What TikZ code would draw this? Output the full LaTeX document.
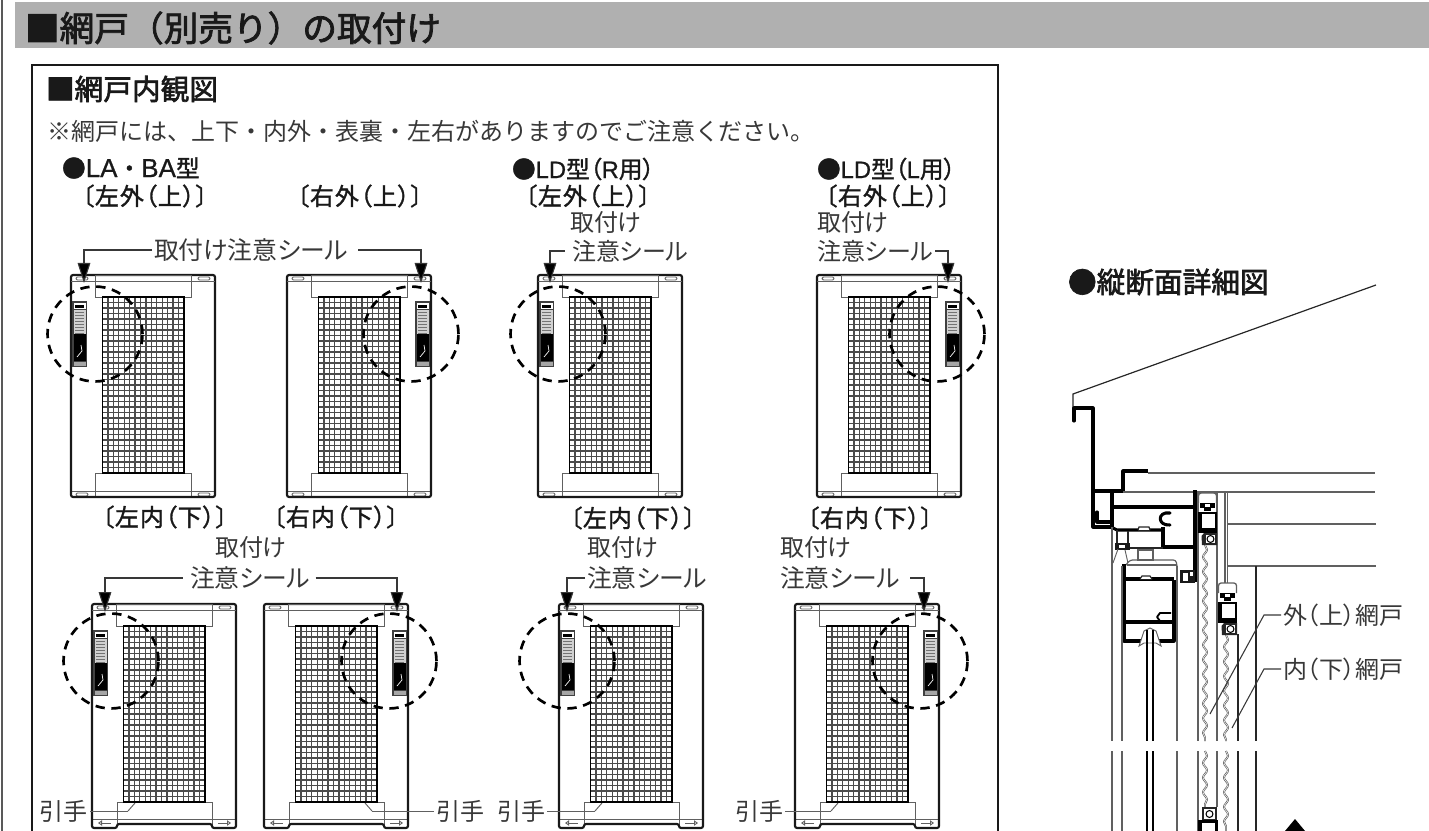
\documentclass[tikz,border=0pt]{standalone}
\usepackage{fontspec}
\usetikzlibrary{arrows.meta,decorations.pathmorphing}
\newfontfamily\jp{Noto Sans CJK JP}
\newfontfamily\jph[FakeBold=2.2]{Noto Sans CJK JP}
\newfontfamily\jpn[FakeBold=1.4]{Noto Sans CJK JP}
\newfontfamily\jpm[FakeBold=1.4,RawFeature={+palt}]{Noto Sans CJK JP}
\newfontfamily\jpc[FakeBold=1.4,RawFeature={+palt},LetterSpace=4]{Noto Sans CJK JP}
\newfontfamily\jpp[RawFeature={+palt}]{Noto Sans CJK JP}
\newfontfamily\lat[FakeBold=0.8]{Liberation Sans}
\definecolor{ink}{HTML}{383838}
\definecolor{band}{HTML}{B0B0B0}
\definecolor{gl}{HTML}{606060}
\tikzset{
 x=0.75pt,y=-0.75pt,
 every node/.style={inner sep=0pt,outer sep=1.5pt,text=ink,anchor=west},
 titlet/.style={font=\jph\fontsize{26pt}{26pt}\selectfont,text=black!90},
 headt/.style={font=\jph\fontsize{21.5pt}{22pt}\selectfont,text=black!90},
 notet/.style={font=\jp\fontsize{18pt}{18pt}\selectfont},
 subt/.style={font=\jpm\fontsize{17.8pt}{18pt}\selectfont,text=black!90},
 capt/.style={font=\jpc\fontsize{18pt}{18pt}\selectfont,text=black!90},
 labt/.style={font=\jpp\fontsize{18pt}{19pt}\selectfont},
 labw/.style={font=\jpp\fontsize{18.6pt}{19pt}\selectfont},
 leader/.style={draw=ink,line width=0.8pt},
 arrowl/.style={leader,-{Triangle[length=15pt,width=9.5pt,fill=black]}},
 fine/.style={draw=gl,line width=0.7pt},
 frameline/.style={draw=black!90,line width=1.6pt,rounded corners=1.5pt},
 meshl/.style={draw=black!70,line width=0.95pt},
 dashc/.style={draw=black,line width=2pt,dash pattern=on 7pt off 5pt},
 gv/.style={draw=gl,line width=0.9pt},
 dk/.style={draw=black!85,line width=0.9pt},
 heavy/.style={draw=black,line width=2.3pt,line join=round},
 barline/.style={draw=black,line width=1.5pt},
 wave/.style={draw=black!65,line width=0.5pt,double=white,double distance=0.4pt,decorate,decoration={snake,segment length=11pt,amplitude=1.5pt}},
}
\newcommand\doorcommon[5]{% name, arrowx, stickerx, circlex, circley
 \draw[fine] (24,0) rectangle (120,22);
 \draw[fine] (0,6) -- (144,6);
 \draw[fine,rounded corners=1pt] (5,2) rectangle (17,5);
 \draw[fine,rounded corners=1pt] (127,2) rectangle (139,5);
 \foreach \i in {0,...,15} \draw[meshl] (31.5+\i*5.43,22) -- (31.5+\i*5.43,198);
 \foreach \i in {0,...,32} \draw[meshl] (31.5,22+\i*5.5) -- (113,22+\i*5.5);
 \draw[draw=black,line width=1.3pt] (31.5,22) rectangle (113,198);
 \begin{scope}[shift={(#3,26)}]
  \fill[black!75] (0,0) rectangle (15,66);
  \fill[white] (1.5,2) rectangle (13.5,8);
  \fill[black] (3,3.5) rectangle (12,7);
  \fill[black!18] (1.5,9) rectangle (13.5,33);
  \foreach \j in {11,14,...,32} \draw[black!55,line width=0.6pt] (3,\j) -- (12,\j);
  \fill[black] (1.5,33) rectangle (13.5,60);
  \draw[white,line width=0.5pt] (5,56) -- (10,50) -- (9,44);
  \fill[black!35] (1.5,61) rectangle (13.5,64.5);
 \end{scope}
 \coordinate (#1-a) at (#2,8);
 \draw[dashc] (#4,#5) circle[radius=35.6pt];
}
\newcommand\doorT[7]{% name,x,y,arrowx,stickerx,circlex,circley
 \begin{scope}[shift={(#2,#3)}]
  \draw[fine] (24,198) rectangle (120,222);
  \draw[fine] (0,216) -- (144,216);
  \draw[fine,rounded corners=1pt] (5,218) rectangle (17,221);
  \draw[fine,rounded corners=1pt] (127,218) rectangle (139,221);
  \draw[frameline] (0,0) rectangle (144,222);
  \doorcommon{#1}{#4}{#5}{#6}{#7}
 \end{scope}
}
\newcommand\doorB[8]{% name,x,y,arrowx,stickerx,circlex,handle x,handle x2
 \begin{scope}[shift={(#2,#3)}]
  \draw[fine] (25,198) rectangle (120,220);
  \draw[fine] (0,215) -- (144,215);
  \draw[frameline] (0,0) -- (144,0) -- (144,224) -- (120,224) -- (120,220) -- (25,220) -- (25,224) -- (0,224) -- cycle;
  \draw[fine] (#8,199) -- (#7,207);
  \coordinate (#1-h) at (#7,207);
  \draw[fine,-{Triangle[open,length=3pt,width=4pt]}] (19,219) -- (6,219);
  \draw[fine,-{Triangle[open,length=3pt,width=4pt]}] (126,219) -- (139,219);
  \doorcommon{#1}{#4}{#5}{#6}{57}
 \end{scope}
}
\newcommand\hanger[2]{%
 \begin{scope}[shift={(#1,#2)}]
  \draw[gv,rounded corners=2pt,fill=white,line width=1pt] (0.5,10) -- (0.5,0) -- (18.5,0) -- (18.5,10);
  \fill[black] (2,10) rectangle (17,18);
  \fill[white] (7,11) rectangle (12,14);
  \fill[white] (2,14.5) rectangle (6,18);
  \fill[white] (13,14.5) rectangle (17,18);
  \fill[black] (0,19) rectangle (19,40);
  \fill[white] (3.5,20.5) rectangle (17,35);
  \fill[black!85] (3.5,43) -- (6,40) -- (19,40) -- (19,52) -- (4,52) -- cycle;
  \fill[white] (8,42) rectangle (17,50);
  \draw[draw=black,line width=0.8pt] (12.5,46) circle[radius=2.6pt];
 \end{scope}
}
\begin{document}
\begin{tikzpicture}
\useasboundingbox (0,0) rectangle (1429,831);
\fill[band] (15,2) rectangle (1429,48);
\draw[draw=black!65,line width=1.2pt] (2,0) -- (2,831);
\draw[draw=black!90,line width=1.2pt] (32,831) -- (32,65) -- (998,65) -- (998,831);
\node[titlet] (title) at (23,28) {■網戸（別売り）の取付け};
\node[headt] (head) at (44,89) {■網戸内観図};
\node[notet] (note) at (45,131) {※網戸には、上下・内外・表裏・左右がありますのでご注意ください。};
\node[subt] (s1) at (60,168) {●{\lat\fontsize{19.5pt}{19.5pt}\selectfont LA}{\jpn ・}{\lat\fontsize{19.5pt}{19.5pt}\selectfont BA}型};
\node[subt] (s2) at (510,169) {●{\lat LD}型（{\lat R}用）};
\node[subt] (s3) at (815,169) {●{\lat LD}型（{\lat L}用）};
\node[capt] (c1) at (80,196) {〔左外（上）〕};
\node[capt] (c2) at (295,196) {〔右外（上）〕};
\node[capt] (c3) at (523,196) {〔左外（上）〕};
\node[capt] (c4) at (823,196) {〔右外（上）〕};
\node[capt] (c5) at (100,517) {〔左内（下）〕};
\node[capt] (c6) at (271,517) {〔右内（下）〕};
\node[capt] (c7) at (568,518) {〔左内（下）〕};
\node[capt] (c8) at (805,518) {〔右内（下）〕};
\doorT{d1}{71}{275}{13}{1}{24}{59}
\doorT{d2}{287}{275}{134}{128}{124}{59}
\doorT{d3}{538}{275}{12}{1}{20}{59}
\doorT{d4}{817}{275}{131}{128}{120}{59}
\doorB{d5}{92}{604}{13}{1}{19}{36}{43}
\doorB{d6}{264}{604}{133}{128}{125}{108}{101}
\doorB{d7}{559}{604}{8}{1}{8}{36}{43}
\doorB{d8}{795}{604}{129}{128}{125}{36}{43}
\node[labw] (l1) at (152,250) {取付け注意シール};
\draw[arrowl] (l1.west) -| (d1-a);
\draw[arrowl] ([xshift=6pt]l1.east) -| (d2-a);
\node[labt] (l2a) at (568,222) {取付け};
\node[labt] (l2) at (570,251) {注意シール};
\draw[arrowl] ([xshift=-4pt]l2.west) -| (d3-a);
\node[labt] (l3a) at (815,222) {取付け};
\node[labt] (l3) at (815,251) {注意シール};
\draw[arrowl] (l3.east) -| (d4-a);
\node[labt] (l4a) at (213,547) {取付け};
\node[labw] (l4) at (188,578) {注意シール};
\draw[arrowl] ([xshift=-4pt]l4.west) -| (d5-a);
\draw[arrowl] ([xshift=2.5pt]l4.east) -| (d6-a);
\node[labt] (l5a) at (585,547) {取付け};
\node[labw] (l5) at (585,578) {注意シール};
\draw[arrowl] (l5.west) -| (d7-a);
\node[labt] (l6a) at (778,547) {取付け};
\node[labw] (l6) at (778,578) {注意シール};
\draw[arrowl] ([xshift=6pt]l6.east) -| (d8-a);
\node[labt] (h1) at (38,811) {引手};
\draw[fine] (h1.east) -- (d5-h);
\node[labt] (h2) at (434,811) {引手};
\draw[fine] (h2.west) -- (d6-h);
\node[labt] (h3) at (495,811) {引手};
\draw[fine] (h3.east) -- (d7-h);
\node[labt] (h4) at (733,811) {引手};
\draw[fine] (h4.east) -- (d8-h);
% section
\node[headt] (sect) at (1066,282) {●縦断面詳細図};
\draw[dk] (1376,285) -- (1073,394) -- (1073,408);
\draw[heavy,line cap=round] (1074,421) -- (1074,408) -- (1093,408) -- (1093,527) -- (1112,527);
\draw[heavy] (1093,491) -- (1123,491) -- (1123,471) -- (1148,471);
\draw[heavy,line cap=round] (1097,512) -- (1097,522) -- (1112,522);
\draw[gv] (1148,473) -- (1375,473);
\draw[gv] (1123,492) -- (1375,492);
\draw[gv] (1227,524) -- (1376,524);
\draw[gv] (1227,566) -- (1376,566);
\draw[gv] (1225,492) -- (1225,583);
\draw[gv] (1227.5,492) -- (1227.5,583);
% head frame
\draw[heavy] (1112,491) -- (1112,527);
\draw[heavy] (1112,507) -- (1195,507);
\draw[heavy] (1195,490) -- (1195,582);
\draw[heavy] (1195,547) -- (1163,547) -- (1163,527);
\draw[heavy,line cap=round] (1170,513) .. controls (1157,511) and (1157,526) .. (1170,525);
\draw[heavy] (1113,528) -- (1117,530) -- (1163,530);
\draw[dk,line width=1.4pt] (1117,530) -- (1117,543);
\draw[dk,line width=1.2pt] (1128,531) -- (1128,548) -- (1163,548);
\draw[dk,fill=white] (1138,530) -- (1139,527) -- (1149,527) -- (1150,530);
\fill[black!90] (1115,543) rectangle (1130,550);
\fill[white] (1119,545) rectangle (1125,548);
\draw[gv,fill=white] (1138,550) rectangle (1153,560);
\draw[fine] (1118,549) -- (1113,563);
\draw[fine] (1125,550) -- (1128,563);
\fill[black!90] (1180,570) rectangle (1195,583);
\fill[white] (1183,573) rectangle (1188,581);
\fill[white] (1190,572) rectangle (1193,576);
% sash
\draw[gv,rounded corners=2pt] (1125,566) -- (1130,560) -- (1176,560) -- (1177,566);
\draw[gv] (1127,565) -- (1177,565);
\draw[heavy] (1124,564) -- (1124,641) -- (1174,641) -- (1174,580);
\draw[heavy] (1124,579) -- (1174,579);
\draw[heavy] (1124,622) -- (1174,622);
\draw[dk,fill=white] (1140,579) -- (1142,576) -- (1150,576) -- (1152,579);
\draw[heavy,line width=1.4pt] (1171,613) -- (1160,613) -- (1157,617) -- (1160,621) -- (1167,621);
% gasket and bar
\draw[fine,fill=white] (1139,646) -- (1144,631) -- (1150,628) -- (1156,631) -- (1161,646) -- (1156,643) -- (1144,643) -- cycle;
\draw[barline] (1147,630) -- (1147,741) (1153,630) -- (1153,741);
\draw[barline] (1147,751) -- (1147,831) (1153,751) -- (1153,831);
% verticals with break
\foreach \xx/\yy in {1112/527,1122/566,1177/566,1198/492} {\draw[gv] (\xx,\yy) -- (\xx,741) (\xx,751) -- (\xx,831);}
\draw[gv,line width=1.4pt] (1217,492) -- (1217,741) (1217,751) -- (1217,807);
\draw[dk] (1238,634) -- (1238,741) (1238,751) -- (1238,831);
\draw[dk] (1256,566) -- (1256,741) (1256,751) -- (1256,831);
% screens
\hanger{1198}{493}
\hanger{1218}{583}
\draw[wave] (1205,545) -- (1205,741);
\draw[wave] (1205,751) -- (1205,807);
\draw[wave] (1226,635) -- (1226,741);
\draw[wave] (1226,751) -- (1226,831);
\fill[black!85] (1202,820) -- (1202,807) -- (1217,807) -- (1217,820) -- cycle;
\fill[white] (1204,809) rectangle (1215,819);
\draw[draw=black,line width=0.8pt] (1209.5,814) circle[radius=2.6pt];
\fill[black] (1198,820) rectangle (1218,831);
\fill[white] (1202,823) rectangle (1215,831);
% labels
\node[labt] (o1) at (1281,615) {外（上）網戸};
\node[labt] (o2) at (1281,669) {内（下）網戸};
\coordinate (t1) at (1210,714);
\coordinate (t2) at (1232,728);
\coordinate (k1) at (1264,615);
\coordinate (k2) at (1264,669);
\draw[leader] (o1.west) -- (k1) -- (t1);
\draw[leader] (o2.west) -- (k2) -- (t2);
\coordinate (tri) at (1295,819);
\fill[black] (tri) -- (1305,831) -- (1285,831) -- cycle;
\end{tikzpicture}
\end{document}
